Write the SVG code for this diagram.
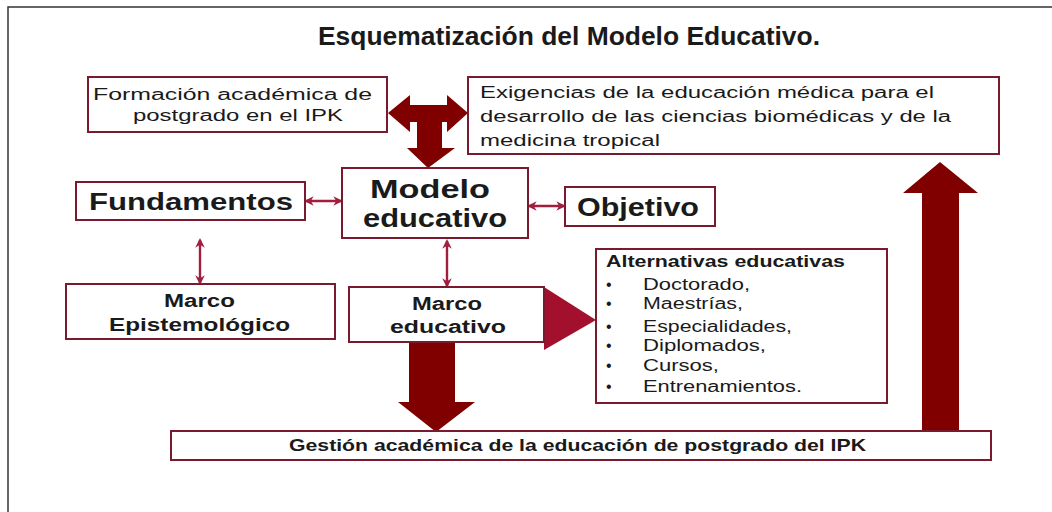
<svg xmlns="http://www.w3.org/2000/svg" width="1052" height="512" viewBox="0 0 1052 512">
<defs>
<style>
.box{fill:#fff;stroke:#7a1a2e;stroke-width:2}
.t{font-family:"Liberation Sans",Arial,sans-serif;fill:#1a1a1a}
.b{font-weight:bold}
.big{fill:#800000}
.tri{fill:#a3102e}
.sm{stroke:#a01f3f;stroke-width:2.4;fill:none}
</style>
<marker id="ah" viewBox="0 0 10 10" refX="8" refY="5" markerWidth="4" markerHeight="4.4" orient="auto-start-reverse" markerUnits="strokeWidth">
<path d="M0,0 L10,5 L0,10 L3,5 Z" fill="#a01f3f"/>
</marker>
</defs>
<rect x="0" y="0" width="1052" height="512" fill="#fff"/>
<path d="M8,512 V7 H1052" fill="none" stroke="#333" stroke-width="1.5"/>

<text id="title" class="t b" x="318" y="45" font-size="25" textLength="502" lengthAdjust="spacingAndGlyphs">Esquematización del Modelo Educativo.</text>

<g id="connectors">
<polygon class="big" points="388,113 410,95 410,105 417,105 442,105 447,105 447,95 468,113 447,132 447,122 442,122 442,148 455,148 428,168 407,148 417,148 417,122 410,122 410,132"/>
<polygon class="big" points="409,342 455,342 455,402 475,402 436,432 398,402 409,402"/>
<polygon class="big" points="922,431 922,193 903,193 940,162 978,193 959,193 959,431"/>
<polygon class="tri" points="544,287 596,320 544,350"/>
<line class="sm" x1="306" y1="201" x2="341" y2="201" marker-start="url(#ah)" marker-end="url(#ah)"/>
<line class="sm" x1="529" y1="206" x2="564" y2="206" marker-start="url(#ah)" marker-end="url(#ah)"/>
<line class="sm" x1="200" y1="240" x2="200" y2="283" marker-start="url(#ah)" marker-end="url(#ah)"/>
<line class="sm" x1="447" y1="241" x2="447" y2="286" marker-start="url(#ah)" marker-end="url(#ah)"/>
</g>

<g id="formacion">
<rect class="box" x="88" y="77" width="299" height="55"/>
<text class="t" x="93" y="100" font-size="16" textLength="279" lengthAdjust="spacingAndGlyphs">Formación académica de</text>
<text class="t" x="133" y="121" font-size="16" textLength="210" lengthAdjust="spacingAndGlyphs">postgrado en el IPK</text>
</g>

<g id="exigencias">
<rect class="box" x="468" y="77" width="531" height="77"/>
<text class="t" x="480" y="98" font-size="16" textLength="454" lengthAdjust="spacingAndGlyphs">Exigencias de la educación médica para el</text>
<text class="t" x="480" y="122" font-size="16" textLength="471" lengthAdjust="spacingAndGlyphs">desarrollo de las ciencias biomédicas y de la</text>
<text class="t" x="480" y="146" font-size="16" textLength="180" lengthAdjust="spacingAndGlyphs">medicina tropical</text>
</g>

<g id="modelo">
<rect class="box" x="342" y="168" width="186" height="70"/>
<text class="t b" x="370" y="198" font-size="26" textLength="120" lengthAdjust="spacingAndGlyphs">Modelo</text>
<text class="t b" x="363" y="227" font-size="26" textLength="144" lengthAdjust="spacingAndGlyphs">educativo</text>
</g>

<g id="fundamentos">
<rect class="box" x="76" y="182" width="229" height="38"/>
<text class="t b" x="89" y="210" font-size="24" textLength="204" lengthAdjust="spacingAndGlyphs">Fundamentos</text>
</g>

<g id="objetivo">
<rect class="box" x="565" y="187" width="150" height="39"/>
<text class="t b" x="577" y="216" font-size="26" textLength="122" lengthAdjust="spacingAndGlyphs">Objetivo</text>
</g>

<g id="marco-epistemologico">
<rect class="box" x="66" y="284" width="269" height="55"/>
<text class="t b" x="164" y="307" font-size="18" textLength="71" lengthAdjust="spacingAndGlyphs">Marco</text>
<text class="t b" x="109" y="331" font-size="18" textLength="181" lengthAdjust="spacingAndGlyphs">Epistemológico</text>
</g>

<g id="marco-educativo">
<rect class="box" x="349" y="287" width="195" height="55"/>
<text class="t b" x="412" y="310" font-size="18" textLength="70" lengthAdjust="spacingAndGlyphs">Marco</text>
<text class="t b" x="390" y="333" font-size="18" textLength="116" lengthAdjust="spacingAndGlyphs">educativo</text>
</g>

<g id="alternativas">
<rect class="box" x="596" y="249" width="291" height="154"/>
<text class="t b" x="606" y="267" font-size="17" textLength="239" lengthAdjust="spacingAndGlyphs">Alternativas educativas</text>
<g class="t" font-size="16">
<text x="606" y="290">•</text>
<text x="606" y="309">•</text>
<text x="606" y="332">•</text>
<text x="606" y="351">•</text>
<text x="606" y="371">•</text>
<text x="606" y="392">•</text>
<text x="643" y="290" textLength="107" lengthAdjust="spacingAndGlyphs">Doctorado,</text>
<text x="643" y="309" textLength="100" lengthAdjust="spacingAndGlyphs">Maestrías,</text>
<text x="643" y="332" textLength="149" lengthAdjust="spacingAndGlyphs">Especialidades,</text>
<text x="643" y="351" textLength="123" lengthAdjust="spacingAndGlyphs">Diplomados,</text>
<text x="643" y="371" textLength="76" lengthAdjust="spacingAndGlyphs">Cursos,</text>
<text x="643" y="392" textLength="159" lengthAdjust="spacingAndGlyphs">Entrenamientos.</text>
</g>
</g>

<g id="gestion">
<rect class="box" x="171" y="431" width="820" height="29"/>
<text class="t b" x="289" y="451" font-size="17" textLength="577" lengthAdjust="spacingAndGlyphs">Gestión académica de la educación de postgrado del IPK</text>
</g>
</svg>
